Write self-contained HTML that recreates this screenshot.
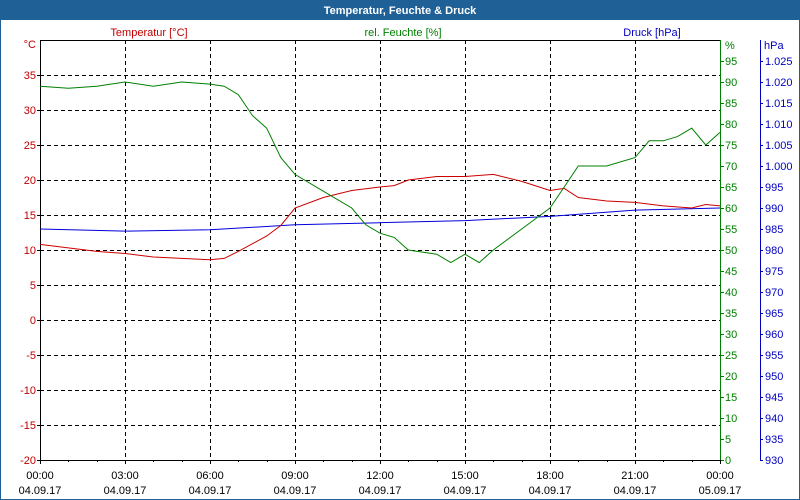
<!DOCTYPE html>
<html><head><meta charset="utf-8">
<style>
body{margin:0;background:#fff;font-family:"Liberation Sans",sans-serif;}
#wrap{position:relative;width:800px;height:500px;overflow:hidden;}
</style></head>
<body>
<div id="wrap">
<svg id="chart" width="800" height="500" xmlns="http://www.w3.org/2000/svg" font-family="Liberation Sans, sans-serif" font-size="11">
<rect x="0" y="0" width="800" height="500" fill="#fff" stroke="#1f6096" stroke-width="2"/>
<rect x="0" y="0" width="800" height="20" fill="#1f6096"/>
<text x="400" y="14" text-anchor="middle" fill="#fff" font-weight="bold" font-size="11">Temperatur, Feuchte &amp; Druck</text>
<text x="149" y="36" text-anchor="middle" fill="#c00000">Temperatur [°C]</text>
<text x="403" y="36" text-anchor="middle" fill="#008000">rel. Feuchte [%]</text>
<text x="652" y="36" text-anchor="middle" fill="#0000c0">Druck [hPa]</text>
<g id="grid"></g>
<g id="axes"></g>
<g id="series"></g>
</svg>
</div>
<script>
const hours=[0,1,2,3,4,5,6,6.5,7,8,8.5,9,10,11,12,12.5,13,14,15,16,17,18,18.5,19,20,21,22,23,23.5,24];
const tempValues=[10.8,10.3,9.8,9.5,9.0,8.8,8.6,8.8,9.8,12,13.5,16,17.5,18.5,19,19.2,20,20.5,20.5,20.8,19.8,18.5,18.8,17.5,17,16.8,16.3,16,16.5,16.3];
const humHours=[0,1,2,3,4,5,6,6.5,7,7.5,8,8.5,9,10,11,11.5,12,12.5,13,14,14.5,15,15.5,16,17,18,18.5,19,20,21,21.5,22,22.5,23,23.5,24];
const humValues=[89,88.5,89,90,89,90,89.5,89,87,82,79,72,68,64,60,56,54,53,50,49,47,49,47,50,55,60,65,70,70,72,76,76,77,79,75,78];
const presHours=[0,3,6,9,12,15,18,21,24];
const presValues=[985,984.5,984.8,986,986.5,987,988,989.5,990];
const tempTicks=[40,35,30,25,20,15,10,5,0,-5,-10,-15,-20];
const humTicks=[95,90,85,80,75,70,65,60,55,50,45,40,35,30,25,20,15,10,5,0];
const presTicks=["1.025","1.020","1.015","1.010","1.005","1.000","995","990","985","980","975","970","965","960","955","950","945","940","935","930"];
const timeLabels=["00:00","03:00","06:00","09:00","12:00","15:00","18:00","21:00","00:00"];
const dateLabels=["04.09.17","04.09.17","04.09.17","04.09.17","04.09.17","04.09.17","04.09.17","04.09.17","05.09.17"];

const L=40,R=720,T=40,B=460;
const xS=h=>L+h*(R-L)/24;
const yT=v=>B-(v+20)*(B-T)/60;
const yH=v=>B-v*(B-T)/100;
const yP=v=>B-(v-930)*(B-T)/100;
const NS="http://www.w3.org/2000/svg";
function mk(tag,attrs,parent){const e=document.createElementNS(NS,tag);for(const k in attrs)e.setAttribute(k,attrs[k]);parent.appendChild(e);return e;}
const grid=document.getElementById('grid'),axes=document.getElementById('axes'),ser=document.getElementById('series');

// horizontal grid
for(let i=1;i<tempTicks.length-1;i++){const y=Math.round(yT(tempTicks[i]))+0.5;
 const l=mk('line',{x1:L,x2:R,y1:y,y2:y,stroke:'#000','stroke-dasharray':'4,3'},grid);
 }
for(let i=1;i<8;i++){const x=Math.round(xS(i*3))+0.5;
 const l=mk('line',{x1:x,x2:x,y1:T,y2:B,stroke:'#000','stroke-dasharray':'4,3'},grid);
 }
// axes lines
mk('line',{x1:L+0.5,x2:L+0.5,y1:T,y2:B+1,stroke:'#000'},axes);
mk('line',{x1:L,x2:R,y1:T+0.5,y2:T+0.5,stroke:'#000'},axes);
mk('line',{x1:L,x2:R,y1:B+0.5,y2:B+0.5,stroke:'#000'},axes);
mk('line',{x1:R+0.5,x2:R+0.5,y1:T,y2:B+1,stroke:'#008000'},axes);
mk('line',{x1:760.5,x2:760.5,y1:T,y2:B+1,stroke:'#0000c0'},axes);
// temp ticks
tempTicks.forEach(v=>{if(v===40)return;const y=yT(v);
 const t=mk('text',{x:L-4,y:y+4,'text-anchor':'end',fill:'#c00000'},axes);t.textContent=v;
 
 mk('line',{x1:L-3,x2:L,y1:Math.round(y)+0.5,y2:Math.round(y)+0.5,stroke:'#000'},axes);});
const tu=mk('text',{x:L-4,y:T+8,'text-anchor':'end',fill:'#c00000'},axes);tu.textContent='°C';

// humidity ticks
humTicks.forEach(v=>{const y=yH(v);
 mk('line',{x1:R,x2:R+4,y1:Math.round(y)+0.5,y2:Math.round(y)+0.5,stroke:'#008000'},axes);
 const t=mk('text',{x:R+5,y:y+4,fill:'#008000'},axes);t.textContent=v;
 });
const hu=mk('text',{x:R+5,y:T+9,fill:'#008000'},axes);hu.textContent='%';

// pressure ticks
presTicks.forEach(s=>{const v=parseFloat(s.replace('1.0','10'));const y=yP(v);
 mk('line',{x1:760,x2:763,y1:Math.round(y)+0.5,y2:Math.round(y)+0.5,stroke:'#0000c0'},axes);
 const t=mk('text',{x:765,y:y+4,fill:'#0000c0'},axes);t.textContent=s;
 });
const pu=mk('text',{x:764,y:T+9,fill:'#0000c0'},axes);pu.textContent='hPa';

// x ticks
for(let i=0;i<=24;i++){const x=Math.round(xS(i))+0.5;mk('line',{x1:x,x2:x,y1:B,y2:B+(i%3===0?4:2),stroke:'#000'},axes);}
timeLabels.forEach((s,i)=>{const x=xS(i*3);
 const t=mk('text',{x:x,y:479,'text-anchor':'middle',fill:'#000'},axes);t.textContent=s;
 
 const d=mk('text',{x:x,y:494,'text-anchor':'middle',fill:'#000'},axes);d.textContent=dateLabels[i];
 });
// series
function line(xs,vs,fy,col,name){const p=mk('polyline',{points:xs.map((h,i)=>xS(h).toFixed(1)+','+fy(vs[i]).toFixed(1)).join(' '),fill:'none',stroke:col,'stroke-width':1},ser);
 }
line(presHours,presValues,yP,'#0000dd','pressure-line');
line(hours,tempValues,yT,'#cc0000','temperature-line');
line(humHours,humValues,yH,'#008000','humidity-line');
</script>
</body></html>
